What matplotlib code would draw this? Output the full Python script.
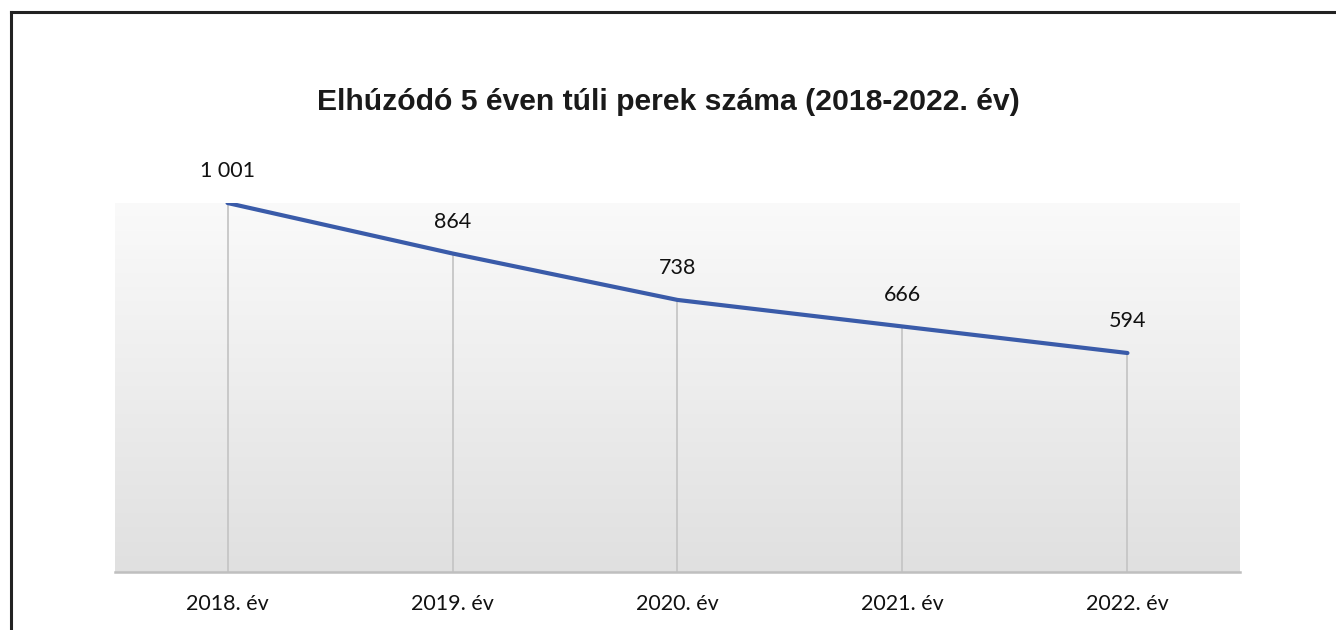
"""
Elhúzódó 5 éven túli perek száma (2018-2022. év) – vonaldiagram.
"""

import numpy as np
import matplotlib.pyplot as plt
from matplotlib.lines import Line2D

EVEK   = ["2018. év", "2019. év", "2020. év", "2021. év", "2022. év"]
PEREK  = [1001, 864, 738, 666, 594]
CIMKEK = ["1 001", "864", "738", "666", "594"]

CIM = "Elhúzódó 5 éven túli perek száma (2018-2022. év)"

VONAL_SZIN = "#3A5BA9"
CIMKE_FONT = ["Lato", "DejaVu Sans"]


def main():
    fig = plt.figure(figsize=(13.36, 6.3), dpi=100)
    ax = fig.add_axes([0.0861, 0.0921, 0.8420, 0.5857])

    x = np.arange(len(EVEK))
    ax.set_xlim(-0.5, len(EVEK) - 0.5)
    ax.set_ylim(0, 1001)

    # Háttér: fentről lefelé sötétedő szürke átmenet
    grad = np.linspace(0, 1, 256).reshape(-1, 1)
    felso = np.array([0.98, 0.98, 0.98])
    also = np.array([0.878, 0.878, 0.878])
    kep = felso + (also - felso) * grad[..., None]
    ax.imshow(kep, extent=[-0.5, len(EVEK) - 0.5, 0, 1001],
              aspect="auto", origin="upper", zorder=0)

    # Függőleges vetítővonalak
    ax.vlines(x, 0, PEREK, color="#C6C6C6", linewidth=1.3, zorder=1)

    ax.plot(x, PEREK, color=VONAL_SZIN, linewidth=3.0,
            solid_capstyle="round", zorder=3)

    for xi, yi, c in zip(x, PEREK, CIMKEK):
        ax.annotate(c, (xi, yi), xytext=(0, 23), textcoords="offset points",
                    ha="center", va="center", fontsize=15.5,
                    family=CIMKE_FONT, color="#111111")

    ax.set_xticks(x)
    ax.set_xticklabels(EVEK, fontsize=15.5, family=CIMKE_FONT, color="#111111")
    ax.tick_params(axis="x", length=0, pad=16)
    ax.set_yticks([])

    for s in ["top", "left", "right"]:
        ax.spines[s].set_visible(False)
    ax.spines["bottom"].set_color("#BFBFBF")
    ax.spines["bottom"].set_linewidth(1.8)
    ax.spines["bottom"].set_zorder(4)

    fig.text(0.5, 0.838, CIM, ha="center", va="center", fontsize=21.7,
             fontweight="bold", family=["Liberation Sans", "DejaVu Sans"],
             color="#1a1a1a")

    # Keret bal és felső oldalon
    fig.add_artist(Line2D([11 / 1336, 11 / 1336], [0, 1 - 12 / 630],
                          transform=fig.transFigure, color="#222222", linewidth=2.2))
    fig.add_artist(Line2D([11 / 1336, 1], [1 - 12 / 630, 1 - 12 / 630],
                          transform=fig.transFigure, color="#222222", linewidth=2.2))

    fig.savefig("out.png", dpi=100)
    plt.close(fig)


if __name__ == "__main__":
    main()
